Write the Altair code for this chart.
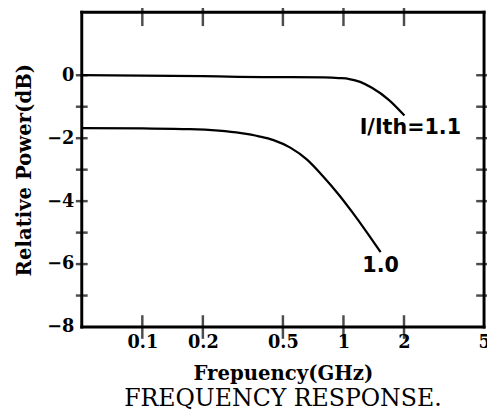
import altair as alt
import pandas as pd

# Curve I/Ith = 1.1
up_f = [0.05, 0.1, 0.2, 0.3, 0.5, 0.8, 0.95, 1.07, 1.21, 1.385, 1.68, 2.01]
up_v = [0.0, -0.01, -0.03, -0.05, -0.06, -0.07, -0.09, -0.12, -0.21, -0.40, -0.78, -1.28]

# Curve I/Ith = 1.0
lo_f = [0.05, 0.1, 0.172, 0.24, 0.31, 0.38, 0.449, 0.544, 0.659, 0.789, 0.955, 1.106, 1.294, 1.53]
lo_v = [-1.68, -1.69, -1.71, -1.76, -1.84, -1.94, -2.06, -2.3, -2.68, -3.2, -3.82, -4.35, -4.95, -5.62]

# Annotations
lab_text = ["I/Ith=1.1", "1.0"]
lab_f = [2.15, 1.53]
lab_v = [-1.69, -6.06]

x_ticks = [0.1, 0.2, 0.5, 1, 2, 5]
x_inner_ticks = [0.1, 0.2, 0.5, 1, 2]
y_labels = [0, -2, -4, -6, -8]
y_minor = [0, -1, -2, -3, -4, -5, -6, -7]

X_MIN, X_MAX = 0.05, 5
Y_MIN, Y_MAX = -8, 2

W, H = 409, 320
FONT = "DejaVu Serif"

curves = pd.DataFrame(
    {"f": up_f + lo_f, "v": up_v + lo_v, "s": ["1.1"] * len(up_f) + ["1.0"] * len(lo_f)}
)
labels = pd.DataFrame({"t": lab_text, "f": lab_f, "v": lab_v})
xt = pd.DataFrame({"f": x_inner_ticks})
yt = pd.DataFrame({"v": y_minor})
frame_df = pd.DataFrame({"k": [0]})

xs = alt.Scale(type="log", domain=[X_MIN, X_MAX], nice=False)
ys = alt.Scale(domain=[Y_MIN, Y_MAX], nice=False, zero=False)

x_axis = alt.Axis(
    values=x_ticks, format="~g", title="Frepuency(GHz)", grid=False, ticks=False, tickSize=0,
    domain=False, labelFont=FONT, labelFontWeight="bold", labelFontSize=18, labelColor="black",
    labelPadding=7, labelFlush=False, labelOverlap=False, labelBound=False,
    titleFont=FONT, titleFontWeight="bold", titleFontSize=20, titleColor="black", titlePadding=12,
)
y_axis = alt.Axis(
    values=y_labels, format="d", title="Relative Power(dB)", grid=False, ticks=False, tickSize=0,
    domain=False, labelFont=FONT, labelFontWeight="bold", labelFontSize=18, labelColor="black",
    labelPadding=8, labelFlush=False, labelOverlap=False,
    titleFont=FONT, titleFontWeight="bold", titleFontSize=20, titleColor="black", titlePadding=13,
)

lines = alt.Chart(curves).mark_line(color="black", strokeWidth=2.3, interpolate="monotone").encode(
    x=alt.X("f:Q", scale=xs, axis=x_axis),
    y=alt.Y("v:Q", scale=ys, axis=y_axis),
    detail="s:N",
)

# tick marks at the plot edges
top_ticks = alt.Chart(xt).mark_tick(
    color="black", thickness=2.5, size=28, orient="vertical"
).encode(x=alt.X("f:Q", scale=xs), y=alt.Y(datum=Y_MAX, scale=ys))
bot_ticks = alt.Chart(xt).mark_tick(
    color="black", thickness=2.5, size=24, orient="vertical"
).encode(x=alt.X("f:Q", scale=xs), y=alt.Y(datum=Y_MIN, scale=ys))
left_ticks = alt.Chart(yt).mark_tick(
    color="black", thickness=2.5, size=12, orient="horizontal"
).encode(y=alt.Y("v:Q", scale=ys), x=alt.X(datum=X_MIN, scale=xs))
right_ticks = alt.Chart(yt).mark_tick(
    color="black", thickness=2.5, size=16, orient="horizontal"
).encode(y=alt.Y("v:Q", scale=ys), x=alt.X(datum=X_MAX, scale=xs))

# plot frame
fr = dict(color="black", strokeWidth=3, strokeCap="square")
frame_top = alt.Chart(frame_df).mark_rule(**fr).encode(x=alt.value(0), x2=alt.value(W), y=alt.value(0))
frame_bot = alt.Chart(frame_df).mark_rule(**fr).encode(x=alt.value(0), x2=alt.value(W), y=alt.value(H))
frame_l = alt.Chart(frame_df).mark_rule(**fr).encode(y=alt.value(0), y2=alt.value(H), x=alt.value(0))
frame_r = alt.Chart(frame_df).mark_rule(**fr).encode(y=alt.value(0), y2=alt.value(H), x=alt.value(W))

lab = alt.Chart(labels).mark_text(
    font="DejaVu Sans", fontSize=21, fontWeight="bold", color="black", align="center", baseline="middle"
).encode(
    x=alt.X("f:Q", scale=xs), y=alt.Y("v:Q", scale=ys), text="t:N"
)

chart = alt.layer(
    lines, top_ticks, bot_ticks, left_ticks, right_ticks,
    frame_top, frame_bot, frame_l, frame_r, lab
).properties(
    width=W,
    height=H,
    padding={"left": 75, "top": 1, "right": 3, "bottom": 82},
    autosize=alt.AutoSizeParams(type="none"),
    background="white",
    title=alt.TitleParams(
        text="FREQUENCY RESPONSE.", orient="bottom", anchor="middle", frame="group",
        font=FONT, fontSize=24, fontWeight="normal", color="black", offset=4, baseline="top",
    ),
)

chart.save("out.html", embed_options={"renderer": "svg", "actions": False})
